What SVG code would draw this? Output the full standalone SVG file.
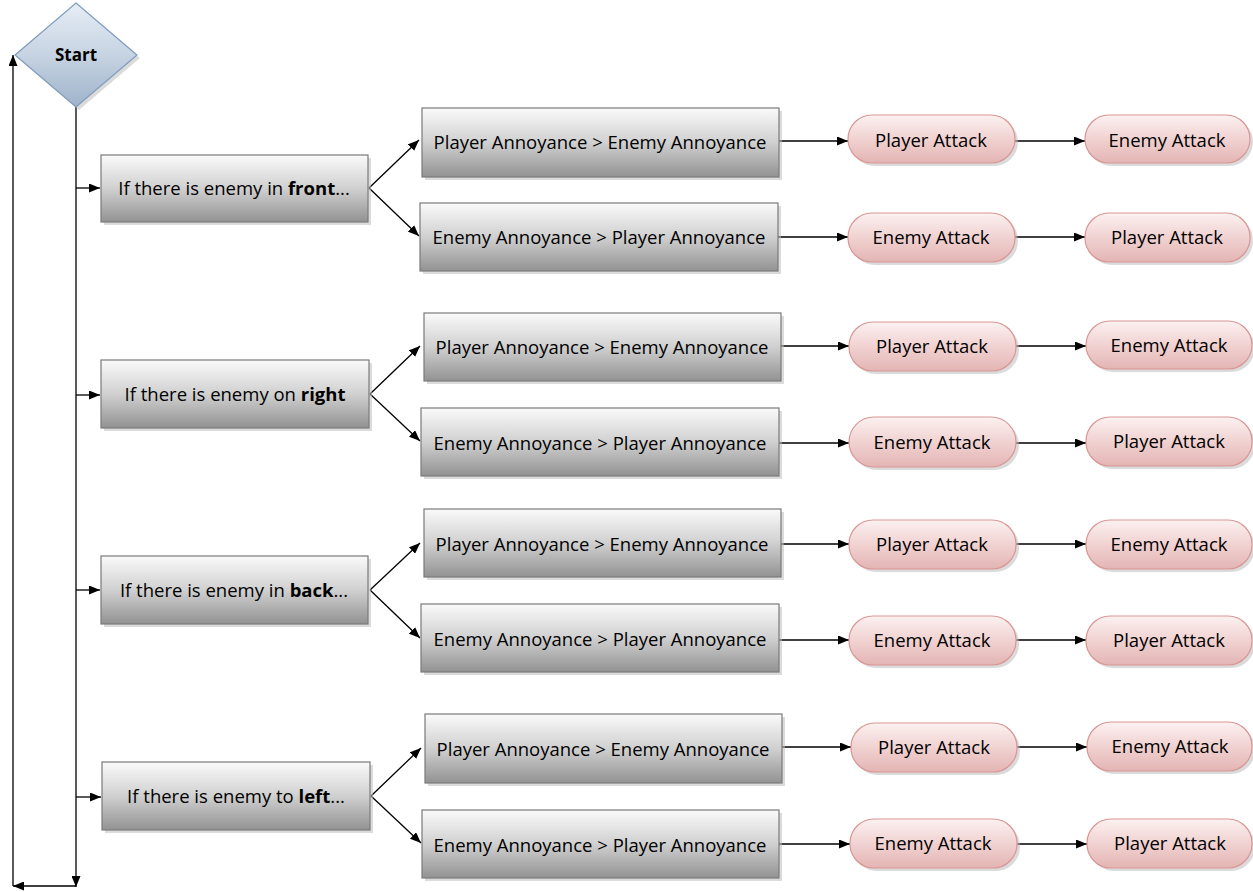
<svg xmlns="http://www.w3.org/2000/svg" width="1253" height="892" viewBox="0 0 1253 892">
<defs>
<linearGradient id="gGray" x1="0" y1="0" x2="0" y2="1">
<stop offset="0" stop-color="#fafafa"/>
<stop offset="0.5" stop-color="#d0d0d0"/>
<stop offset="1" stop-color="#929292"/>
</linearGradient>
<linearGradient id="gPink" x1="0" y1="0" x2="0" y2="1">
<stop offset="0" stop-color="#fcf1f1"/>
<stop offset="0.55" stop-color="#efcfce"/>
<stop offset="1" stop-color="#e3b5b4"/>
</linearGradient>
<linearGradient id="gBlue" x1="0" y1="0" x2="0" y2="1">
<stop offset="0" stop-color="#e6edf5"/>
<stop offset="0.5" stop-color="#c6d3e2"/>
<stop offset="1" stop-color="#9fb3ca"/>
</linearGradient>
<marker id="arr" markerWidth="11" markerHeight="9" refX="11" refY="4.5" orient="auto" markerUnits="userSpaceOnUse">
<path d="M0,0 L11,4.5 L0,9 Z" fill="#000"/>
</marker>
</defs>
<style>
.box{fill:url(#gGray);stroke:#7a7a7a;stroke-width:1.2}
.sh{fill:#bdbdbd;opacity:0.55}
.pill{fill:url(#gPink);stroke:#d99694;stroke-width:1.2}
.dia{fill:url(#gBlue);stroke:#7f9bbf;stroke-width:1.2}
.t{font-family:"Open Sans","Liberation Sans",sans-serif;font-size:18.5px;fill:#000;text-anchor:middle}
.s{font-size:17px}
.b{font-weight:bold}
.c line,.c path{stroke:#000;stroke-width:1.3;fill:none}
.c .a{marker-end:url(#arr)}
</style>
<rect width="1253" height="892" fill="#fff"/>

<g class="c" id="connectors">
<line x1="76" y1="107" x2="76" y2="887" class="a"/>
<line x1="76" y1="886" x2="13" y2="886" class="a"/>
<line x1="13" y1="886" x2="13" y2="55" class="a"/>
<line x1="76" y1="188" x2="100" y2="188" class="a"/>
<line x1="76" y1="395" x2="100" y2="395" class="a"/>
<line x1="76" y1="590" x2="100" y2="590" class="a"/>
<line x1="76" y1="797" x2="101" y2="797" class="a"/>
<line x1="369" y1="188" x2="419" y2="140" class="a"/>
<line x1="369" y1="188" x2="419" y2="236" class="a"/>
<line x1="370" y1="394" x2="420" y2="346" class="a"/>
<line x1="370" y1="394" x2="420" y2="441" class="a"/>
<line x1="370" y1="590" x2="420" y2="543" class="a"/>
<line x1="370" y1="590" x2="420" y2="638" class="a"/>
<line x1="371" y1="796" x2="421" y2="748" class="a"/>
<line x1="371" y1="796" x2="421" y2="843" class="a"/>
<line x1="779" y1="141" x2="848" y2="141" class="a"/>
<line x1="1015" y1="141" x2="1085" y2="141" class="a"/>
<line x1="778" y1="237" x2="848" y2="237" class="a"/>
<line x1="1015" y1="237" x2="1085" y2="237" class="a"/>
<line x1="781" y1="346" x2="849" y2="346" class="a"/>
<line x1="1016" y1="346" x2="1086" y2="346" class="a"/>
<line x1="779" y1="443" x2="849" y2="443" class="a"/>
<line x1="1016" y1="443" x2="1086" y2="443" class="a"/>
<line x1="781" y1="544" x2="849" y2="544" class="a"/>
<line x1="1016" y1="544" x2="1086" y2="544" class="a"/>
<line x1="779" y1="640" x2="849" y2="640" class="a"/>
<line x1="1016" y1="640" x2="1086" y2="640" class="a"/>
<line x1="782" y1="747" x2="851" y2="747" class="a"/>
<line x1="1017" y1="747" x2="1087" y2="747" class="a"/>
<line x1="779" y1="844" x2="850" y2="844" class="a"/>
<line x1="1017" y1="844" x2="1087" y2="844" class="a"/>
</g>

<g id="start">
<polygon class="sh" points="79,6 140,58 79,110 18,58"/>
<polygon class="dia" points="76,3 137,55 76,107 15,55"/>
<text class="t s b" x="76" y="61">Start</text>
</g>

<g id="cond-front">
<rect class="sh" x="104" y="158" width="267" height="67"/>
<rect class="box" x="101" y="155" width="267" height="67"/>
<text class="t" x="234" y="195">If there is enemy in <tspan class="b">front</tspan>...</text>
</g>
<g id="cond-right">
<rect class="sh" x="104" y="363" width="268" height="68"/>
<rect class="box" x="101" y="360" width="268" height="68"/>
<text class="t" x="235" y="401">If there is enemy on <tspan class="b">right</tspan></text>
</g>
<g id="cond-back">
<rect class="sh" x="104" y="559" width="267" height="68"/>
<rect class="box" x="101" y="556" width="267" height="68"/>
<text class="t" x="234" y="597">If there is enemy in <tspan class="b">back</tspan>...</text>
</g>
<g id="cond-left">
<rect class="sh" x="105" y="765" width="268" height="68"/>
<rect class="box" x="102" y="762" width="268" height="68"/>
<text class="t" x="236" y="803">If there is enemy to <tspan class="b">left</tspan>...</text>
</g>

<g id="cmp-1a">
<rect class="sh" x="425" y="111" width="357" height="69"/>
<rect class="box" x="422" y="108" width="357" height="69"/>
<text class="t" x="600" y="149">Player Annoyance &gt; Enemy Annoyance</text>
</g>
<g id="cmp-1b">
<rect class="sh" x="423" y="206" width="358" height="68"/>
<rect class="box" x="420" y="203" width="358" height="68"/>
<text class="t" x="599" y="244">Enemy Annoyance &gt; Player Annoyance</text>
</g>
<g id="cmp-2a">
<rect class="sh" x="427" y="316" width="357" height="68"/>
<rect class="box" x="424" y="313" width="357" height="68"/>
<text class="t" x="602" y="354">Player Annoyance &gt; Enemy Annoyance</text>
</g>
<g id="cmp-2b">
<rect class="sh" x="424" y="411" width="358" height="68"/>
<rect class="box" x="421" y="408" width="358" height="68"/>
<text class="t" x="600" y="450">Enemy Annoyance &gt; Player Annoyance</text>
</g>
<g id="cmp-3a">
<rect class="sh" x="427" y="512" width="357" height="68"/>
<rect class="box" x="424" y="509" width="357" height="68"/>
<text class="t" x="602" y="551">Player Annoyance &gt; Enemy Annoyance</text>
</g>
<g id="cmp-3b">
<rect class="sh" x="424" y="607" width="358" height="68"/>
<rect class="box" x="421" y="604" width="358" height="68"/>
<text class="t" x="600" y="646">Enemy Annoyance &gt; Player Annoyance</text>
</g>
<g id="cmp-4a">
<rect class="sh" x="428" y="717" width="357" height="69"/>
<rect class="box" x="425" y="714" width="357" height="69"/>
<text class="t" x="603" y="756">Player Annoyance &gt; Enemy Annoyance</text>
</g>
<g id="cmp-4b">
<rect class="sh" x="425" y="813" width="357" height="68"/>
<rect class="box" x="422" y="810" width="357" height="68"/>
<text class="t" x="600" y="852">Enemy Annoyance &gt; Player Annoyance</text>
</g>

<g id="p1a"><rect class="sh" x="851" y="118" width="167" height="48" rx="24"/><rect class="pill" x="848" y="115" width="167" height="48" rx="24"/><text class="t" x="931" y="147">Player Attack</text></g>
<g id="p1b"><rect class="sh" x="1088" y="118" width="165" height="48" rx="24"/><rect class="pill" x="1085" y="115" width="165" height="48" rx="24"/><text class="t" x="1167" y="147">Enemy Attack</text></g>
<g id="p2a"><rect class="sh" x="851" y="216" width="167" height="49" rx="24"/><rect class="pill" x="848" y="213" width="167" height="49" rx="24"/><text class="t" x="931" y="244">Enemy Attack</text></g>
<g id="p2b"><rect class="sh" x="1088" y="216" width="165" height="49" rx="24"/><rect class="pill" x="1085" y="213" width="165" height="49" rx="24"/><text class="t" x="1167" y="244">Player Attack</text></g>
<g id="p3a"><rect class="sh" x="852" y="325" width="167" height="49" rx="24"/><rect class="pill" x="849" y="322" width="167" height="49" rx="24"/><text class="t" x="932" y="353">Player Attack</text></g>
<g id="p3b"><rect class="sh" x="1089" y="324" width="166" height="48" rx="24"/><rect class="pill" x="1086" y="321" width="166" height="48" rx="24"/><text class="t" x="1169" y="352">Enemy Attack</text></g>
<g id="p4a"><rect class="sh" x="852" y="420" width="167" height="50" rx="25"/><rect class="pill" x="849" y="417" width="167" height="50" rx="25"/><text class="t" x="932" y="449">Enemy Attack</text></g>
<g id="p4b"><rect class="sh" x="1089" y="420" width="166" height="49" rx="24"/><rect class="pill" x="1086" y="417" width="166" height="49" rx="24"/><text class="t" x="1169" y="448">Player Attack</text></g>
<g id="p5a"><rect class="sh" x="852" y="523" width="167" height="49" rx="24"/><rect class="pill" x="849" y="520" width="167" height="49" rx="24"/><text class="t" x="932" y="551">Player Attack</text></g>
<g id="p5b"><rect class="sh" x="1089" y="523" width="166" height="49" rx="24"/><rect class="pill" x="1086" y="520" width="166" height="49" rx="24"/><text class="t" x="1169" y="551">Enemy Attack</text></g>
<g id="p6a"><rect class="sh" x="852" y="619" width="167" height="49" rx="24"/><rect class="pill" x="849" y="616" width="167" height="49" rx="24"/><text class="t" x="932" y="647">Enemy Attack</text></g>
<g id="p6b"><rect class="sh" x="1089" y="619" width="166" height="49" rx="24"/><rect class="pill" x="1086" y="616" width="166" height="49" rx="24"/><text class="t" x="1169" y="647">Player Attack</text></g>
<g id="p7a"><rect class="sh" x="854" y="726" width="166" height="49" rx="24"/><rect class="pill" x="851" y="723" width="166" height="49" rx="24"/><text class="t" x="934" y="754">Player Attack</text></g>
<g id="p7b"><rect class="sh" x="1090" y="725" width="165" height="49" rx="24"/><rect class="pill" x="1087" y="722" width="165" height="49" rx="24"/><text class="t" x="1170" y="753">Enemy Attack</text></g>
<g id="p8a"><rect class="sh" x="853" y="822" width="167" height="49" rx="24"/><rect class="pill" x="850" y="819" width="167" height="49" rx="24"/><text class="t" x="933" y="850">Enemy Attack</text></g>
<g id="p8b"><rect class="sh" x="1090" y="822" width="165" height="49" rx="24"/><rect class="pill" x="1087" y="819" width="165" height="49" rx="24"/><text class="t" x="1170" y="850">Player Attack</text></g>
</svg>
